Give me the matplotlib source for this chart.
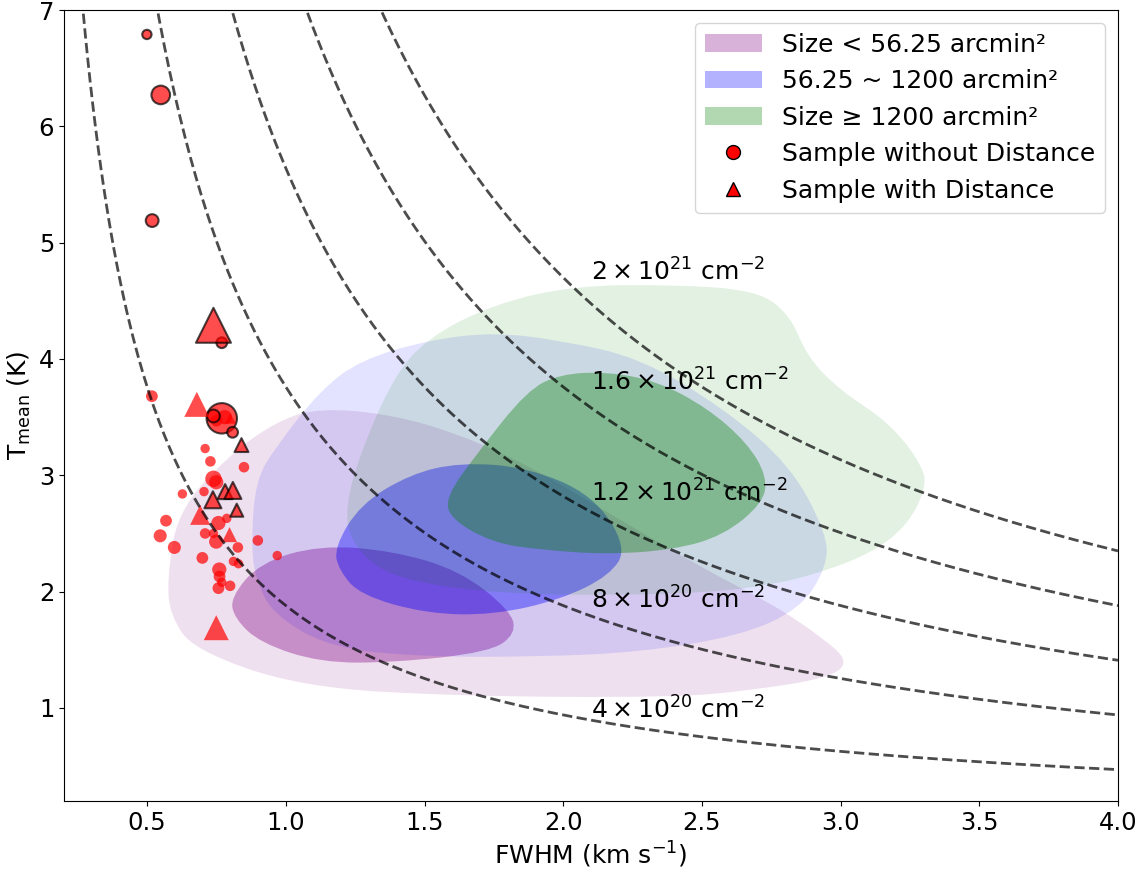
import numpy as np
import matplotlib.pyplot as plt
from matplotlib.patches import Patch, PathPatch
from matplotlib.path import Path
from matplotlib.lines import Line2D

# column density curves: T = k / FWHM
n_labels = [r'$4\times10^{20}\ \mathrm{cm^{-2}}$', r'$8\times10^{20}\ \mathrm{cm^{-2}}$',
            r'$1.2\times10^{21}\ \mathrm{cm^{-2}}$', r'$1.6\times10^{21}\ \mathrm{cm^{-2}}$',
            r'$2\times10^{21}\ \mathrm{cm^{-2}}$']
n_const = [1.88, 3.76, 5.64, 7.52, 9.40]
label_y = [0.98, 1.93, 2.85, 3.80, 4.75]

# KDE outlines (FWHM, Tmean), outer and inner levels
small_outer_x = [0.572, 0.608, 0.788, 0.969, 1.124, 1.387, 1.628, 1.870, 2.133, 2.494, 2.757, 2.937,
                 3.030, 2.962, 2.674, 2.396, 1.628, 1.052, 0.666, 0.583]
small_outer_y = [2.10, 2.68, 3.16, 3.47, 3.58, 3.52, 3.35, 3.09, 2.72, 2.21, 1.89, 1.60,
                 1.40, 1.26, 1.15, 1.09, 1.10, 1.18, 1.50, 1.80]
small_inner_x = [0.800, 0.907, 1.124, 1.387, 1.628, 1.809, 1.830, 1.736, 1.387, 1.124, 0.907, 0.815]
small_inner_y = [1.95, 2.25, 2.40, 2.35, 2.18, 1.84, 1.64, 1.48, 1.39, 1.39, 1.56, 1.77]

mid_outer_x = [0.875, 0.890, 0.969, 1.124, 1.268, 1.509, 1.747, 1.989, 2.277, 2.576, 2.818, 2.950,
               2.950, 2.854, 2.638, 2.277, 1.917, 1.484, 1.160, 0.955, 0.893]
mid_outer_y = [2.38, 2.96, 3.26, 3.73, 3.99, 4.16, 4.23, 4.16, 4.01, 3.58, 3.09, 2.50,
               2.21, 1.85, 1.62, 1.48, 1.44, 1.44, 1.52, 1.80, 2.10]
mid_inner_x = [1.175, 1.268, 1.448, 1.628, 1.870, 2.108, 2.230, 2.169, 1.989, 1.747, 1.509, 1.268, 1.190]
mid_inner_y = [2.38, 2.75, 3.01, 3.11, 3.07, 2.83, 2.38, 2.14, 1.93, 1.80, 1.81, 1.97, 2.19]

big_outer_x = [1.215, 1.268, 1.387, 1.509, 1.747, 2.036, 2.396, 2.699, 2.818, 2.879, 2.998, 3.178,
               3.300, 3.305, 3.240, 3.117, 2.937, 2.757, 2.519, 2.158, 1.845, 1.556, 1.340, 1.232]
big_outer_y = [2.73, 3.19, 3.84, 4.18, 4.47, 4.63, 4.64, 4.59, 4.38, 4.02, 3.73, 3.45,
               3.07, 2.87, 2.57, 2.34, 2.17, 2.06, 1.99, 1.97, 1.98, 2.04, 2.17, 2.44]
big_inner_x = [1.575, 1.690, 1.870, 1.989, 2.158, 2.338, 2.519, 2.663, 2.735, 2.720, 2.576, 2.396,
               2.158, 1.917, 1.747, 1.596]
big_inner_y = [2.81, 3.19, 3.73, 3.87, 3.89, 3.81, 3.58, 3.28, 2.99, 2.76, 2.48, 2.36,
               2.32, 2.36, 2.42, 2.62]

# samples without distance (circles)
c_x = [0.517, 0.709, 0.728, 0.849, 0.739, 0.749, 0.627, 0.705, 0.568, 0.547, 0.598, 0.709, 0.757,
       0.787, 0.749, 0.739, 0.827, 0.899, 0.969, 0.699, 0.811, 0.829, 0.760, 0.761, 0.769, 0.799,
       0.757, 0.780, 0.750]
c_y = [3.68, 3.23, 3.12, 3.07, 2.97, 2.94, 2.84, 2.86, 2.61, 2.48, 2.38, 2.50, 2.59,
       2.63, 2.43, 2.50, 2.38, 2.44, 2.31, 2.29, 2.26, 2.24, 2.19, 2.13, 2.08, 2.05,
       2.03, 3.50, 3.47]
c_s = [72, 46, 58, 58, 140, 105, 46, 46, 72, 88, 88, 58, 105,
       46, 105, 46, 58, 58, 46, 72, 46, 46, 105, 72, 46, 58,
       72, 105, 72]
ce_x = [0.499, 0.549, 0.518, 0.769, 0.769, 0.739, 0.808]
ce_y = [6.79, 6.27, 5.19, 4.14, 3.49, 3.51, 3.37]
ce_s = [45, 180, 85, 60, 480, 85, 60]

# samples with distance (triangles)
t_x = [0.679, 0.691, 0.797, 0.749, 0.800]
t_y = [3.61, 2.66, 2.49, 1.69, 3.49]
t_s = [324, 207, 117, 324, 60]
te_x = [0.739, 0.840, 0.781, 0.809, 0.737, 0.823]
te_y = [4.29, 3.26, 2.86, 2.87, 2.79, 2.70]
te_s = [635, 100, 117, 150, 150, 88]


def smooth_patch(xs, ys, color, alpha):
    # closed quadratic bezier through midpoints of the outline points
    p = np.column_stack([xs, ys])
    m = (p + np.roll(p, -1, axis=0)) / 2
    verts = [m[-1]]
    codes = [Path.MOVETO]
    for i in range(len(p)):
        verts += [p[i], m[i]]
        codes += [Path.CURVE3, Path.CURVE3]
    return PathPatch(Path(verts, codes), facecolor=color, alpha=alpha, lw=0)


fig, ax = plt.subplots(figsize=(11.38, 8.72), dpi=100)
fig.subplots_adjust(left=0.0562, right=0.9824, top=0.9885, bottom=0.0814)

ax.add_patch(smooth_patch(small_outer_x, small_outer_y, 'purple', 0.12))
ax.add_patch(smooth_patch(small_inner_x, small_inner_y, 'purple', 0.36))
ax.add_patch(smooth_patch(mid_outer_x, mid_outer_y, 'blue', 0.11))
ax.add_patch(smooth_patch(mid_inner_x, mid_inner_y, 'blue', 0.38))
ax.add_patch(smooth_patch(big_outer_x, big_outer_y, 'green', 0.11))
ax.add_patch(smooth_patch(big_inner_x, big_inner_y, 'green', 0.36))

xx = np.linspace(0.2, 4.0, 400)
for k, lab, ly in zip(n_const, n_labels, label_y):
    ax.plot(xx, k / xx, ls='--', color='k', alpha=0.7, lw=2)
    ax.text(2.1, ly, lab, fontsize=18, ha='left', va='center')

ax.scatter(c_x, c_y, s=c_s, color='red', alpha=0.7, lw=0)
ax.scatter(ce_x, ce_y, s=ce_s, color='red', edgecolor='black', alpha=0.7, lw=1.5)
ax.scatter(t_x, t_y, s=t_s, marker='^', color='red', alpha=0.7, lw=0)
ax.scatter(te_x, te_y, s=te_s, marker='^', color='red', edgecolor='black', alpha=0.7, lw=1.5)

ax.set_xlim(0.2, 4.0)
ax.set_ylim(0.2, 7)
ax.set_xlabel(r'FWHM (km s$^{-1}$)', fontsize=18)
ax.set_ylabel(r'T$_{\rm mean}$ (K)', fontsize=18)
ax.tick_params(labelsize=17.5)

handles = [Patch(color='purple', alpha=0.3, lw=0, label='Size < 56.25 arcmin²'),
           Patch(color='blue', alpha=0.3, lw=0, label='56.25 ~ 1200 arcmin²'),
           Patch(color='green', alpha=0.3, lw=0, label='Size ≥ 1200 arcmin²'),
           Line2D([], [], ls='', marker='o', color='red', markeredgecolor='black', markersize=10,
                  label='Sample without Distance'),
           Line2D([], [], ls='', marker='^', color='red', markeredgecolor='black', markersize=10,
                  label='Sample with Distance')]
ax.legend(handles=handles, loc='upper right', fontsize=18, handlelength=2.3)

plt.savefig('out.png')
